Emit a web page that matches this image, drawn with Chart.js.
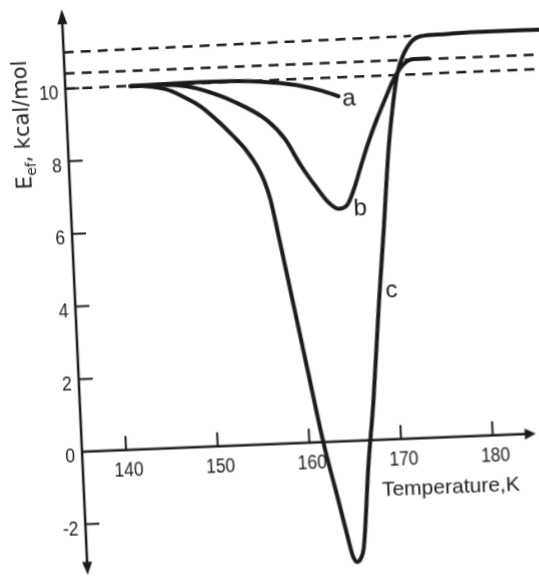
<!DOCTYPE html>
<html>
<head>
<meta charset="utf-8">
<script src="https://cdn.jsdelivr.net/npm/chart.js@4.4.1/dist/chart.umd.min.js"></script>
<style>
  html, body { margin: 0; padding: 0; background: #fff; width: 539px; height: 578px; overflow: hidden; }
  /* the printed figure sits slightly skewed on the page */
  #plot { position: absolute; left: 0; top: 0; width: 566px; height: 578px;
          transform-origin: 82px 452px; transform: matrix(1, -0.04, 0.046, 1, 0, 0); }
</style>
</head>
<body>
<div id="plot"><canvas id="eefChart" width="566" height="578"></canvas></div>
<script>
// curve a
const aTemp = [142.3, 146.0, 150.0, 154.0, 156.5, 158.5, 160.8, 163.0, 164.9];
const aEef  = [10.0, 10.02, 10.03, 10.02, 9.98, 9.92, 9.82, 9.67, 9.49];

// curve b
const bTemp = [142.3, 146.0, 148.5, 150.5, 153.4, 157.0, 158.9, 160.4, 162.05, 163.3, 164.35,
               165.35, 166.1, 166.95, 167.85, 168.95, 170.05, 171.0, 172.15, 173.3, 174.9];
const bEef  = [10.0, 10.0, 9.93, 9.78, 9.47, 8.91, 8.36, 7.66, 7.01, 6.58, 6.4,
               6.51, 6.91, 7.51, 8.14, 8.81, 9.41, 9.9, 10.3, 10.43, 10.43];

// curve c
const cTemp = [142.3, 144.0, 146.2, 148.0, 149.8, 151.5, 153.25, 154.49, 155.68, 156.4, 156.97,
               157.75, 158.87, 159.98, 161.53, 162.81, 163.77, 164.15, 164.6, 165.0, 165.4, 166.3,
               167.2, 168.25, 169.13, 170.09, 170.89, 171.46, 172.09, 173.03, 174.15, 176.35,
               179.6, 187.5];
const cEef  = [10.0, 9.98, 9.87, 9.65, 9.37, 8.98, 8.51, 8.14, 7.66, 7.24, 6.73,
               5.62, 3.95, 2.29, -0.02, -1.55, -2.72, -3.15, -3.33, -3.25, -2.95, -0.73,
               1.11, 3.7, 5.7, 7.98, 9.35, 10.09, 10.52, 10.89, 11.05, 11.08,
               11.11, 11.1];

// extrapolated plateaus (dashed)
const dashTopTemp = [135.19, 173.1];
const dashTopEef  = [11.0, 11.07];
const dashMidTemp = [135.19, 187.5];
const dashMidEef  = [10.42, 10.42];
const dashLowTemp = [135.19, 187.5];
const dashLowEef  = [10.0, 10.02];

// axes
const xTicks = [140, 150, 160, 170, 180];
const yTicks = [-2, 0, 2, 4, 6, 8, 10];
const xStart = 135.19, xArrowEnd = 184.7;
const yArrowTop = 12.19, yArrowBottom = -3.39;

const curveLabels = [
    { text: 'a', x: 165.3, y: 9.22 },
    { text: 'b', x: 166.0, y: 6.2 },
    { text: 'c', x: 169.03, y: 3.91 }
];

const ink = '#1a1a1a';
const toPoints = (xs, ys) => xs.map((x, i) => ({ x, y: ys[i] }));

const curve = (label, xs, ys) => ({
    label,
    data: toPoints(xs, ys),
    borderColor: ink,
    borderWidth: 4,
    pointRadius: 0,
    cubicInterpolationMode: 'monotone',
    borderCapStyle: 'round',
    borderJoinStyle: 'round',
    clip: false
});

const dashed = (label, xs, ys) => ({
    label,
    data: toPoints(xs, ys),
    borderColor: ink,
    borderWidth: 2.5,
    borderDash: [10, 7],
    pointRadius: 0,
    tension: 0,
    clip: false
});

function arrowHead(ctx, tx, ty, dx, dy, len, half) {
    const bx = tx - dx * len, by = ty - dy * len;
    ctx.beginPath();
    ctx.moveTo(tx, ty);
    ctx.lineTo(bx - dy * half, by + dx * half);
    ctx.lineTo(bx + dy * half, by - dx * half);
    ctx.closePath();
    ctx.fill();
}

function squeezed(ctx, text, x, y, align, sx) {
    ctx.save();
    ctx.translate(x, y);
    ctx.scale(sx, 1);
    ctx.textAlign = align;
    ctx.fillText(text, 0, 0);
    ctx.restore();
}

const axesPlugin = {
    id: 'sketchAxes',
    afterDatasetsDraw(chart) {
        const { ctx, scales: { x, y } } = chart;
        const ox = x.getPixelForValue(xStart);
        const oy = y.getPixelForValue(0);
        const yTop = y.getPixelForValue(yArrowTop);
        const yBot = y.getPixelForValue(yArrowBottom);
        const xEnd = x.getPixelForValue(xArrowEnd);

        ctx.save();
        ctx.strokeStyle = ink;
        ctx.fillStyle = ink;
        ctx.lineWidth = 2.5;

        // axis lines
        ctx.beginPath();
        ctx.moveTo(ox, yBot - 8);
        ctx.lineTo(ox, yTop + 8);
        ctx.moveTo(ox, oy);
        ctx.lineTo(xEnd - 6, oy);
        ctx.stroke();
        arrowHead(ctx, ox, yTop, 0, -1, 15, 5);
        arrowHead(ctx, ox, yBot, 0, 1, 13, 5);
        arrowHead(ctx, xEnd, oy, 1, 0, 11, 5.5);

        // tick marks point inward
        ctx.lineWidth = 2;
        ctx.beginPath();
        xTicks.forEach(t => {
            const px = x.getPixelForValue(t);
            ctx.moveTo(px, oy);
            ctx.lineTo(px, oy - 14);
        });
        yTicks.filter(v => v !== 0).forEach(v => {
            const py = y.getPixelForValue(v);
            ctx.moveTo(ox, py);
            ctx.lineTo(ox + 14, py);
        });
        ctx.stroke();

        // tick labels
        ctx.font = '20px "Liberation Sans", Arial, sans-serif';
        ctx.textBaseline = 'alphabetic';
        xTicks.forEach(t => {
            squeezed(ctx, String(t), x.getPixelForValue(t) + 2, oy + 26, 'center', 0.87);
        });
        yTicks.forEach(v => {
            squeezed(ctx, String(v), ox - 7, y.getPixelForValue(v) + 10.5, 'right', 0.87);
        });

        // x axis title
        ctx.font = '21px "Liberation Sans", Arial, sans-serif';
        ctx.textAlign = 'left';
        ctx.fillText('Temperature,K', x.getPixelForValue(167.67), y.getPixelForValue(-1.55));

        // curve labels
        ctx.font = '24px "Liberation Sans", Arial, sans-serif';
        curveLabels.forEach(l => {
            ctx.fillText(l.text, x.getPixelForValue(l.x), y.getPixelForValue(l.y));
        });

        // y axis title, read bottom to top
        ctx.translate(ox - 38, y.getPixelForValue(9.05));
        ctx.rotate(-Math.PI / 2);
        const big = '21px "DejaVu Sans", sans-serif';
        const small = '14px "DejaVu Sans", sans-serif';
        ctx.font = big;
        const wE = ctx.measureText('E').width;
        const wRest = ctx.measureText(', kcal/mol').width;
        ctx.font = small;
        const wSub = ctx.measureText('ef').width;
        let cx = -(wE + wSub + wRest) / 2;
        ctx.textAlign = 'left';
        ctx.font = big;
        ctx.fillText('E', cx, 0);
        cx += wE;
        ctx.font = small;
        ctx.fillText('ef', cx, 5);
        cx += wSub;
        ctx.font = big;
        ctx.fillText(', kcal/mol', cx, 0);
        ctx.restore();
    }
};

new Chart(document.getElementById('eefChart'), {
    type: 'line',
    data: {
        datasets: [
            dashed('upper plateau', dashTopTemp, dashTopEef),
            dashed('middle plateau', dashMidTemp, dashMidEef),
            dashed('lower plateau', dashLowTemp, dashLowEef),
            curve('a', aTemp, aEef),
            curve('b', bTemp, bEef),
            curve('c', cTemp, cEef)
        ]
    },
    options: {
        responsive: false,
        animation: false,
        devicePixelRatio: 1,
        layout: { padding: { left: 82, right: 0, top: 7, bottom: 1 } },
        plugins: {
            legend: { display: false },
            tooltip: { enabled: false }
        },
        scales: {
            x: { type: 'linear', min: xStart, max: 188.0, display: false },
            y: { type: 'linear', min: -3.45, max: 12.25, display: false }
        }
    },
    plugins: [axesPlugin]
});
</script>
</body>
</html>
